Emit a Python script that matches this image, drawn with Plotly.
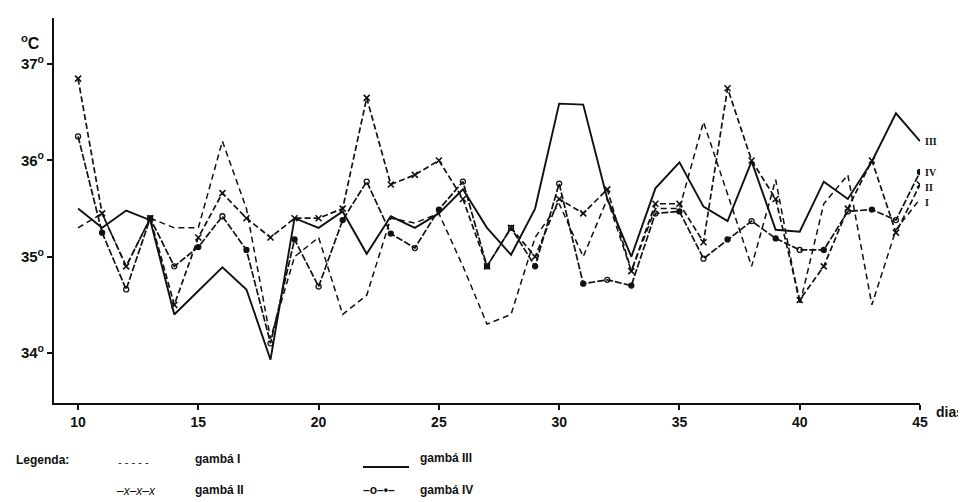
import plotly.graph_objects as go

days = list(range(10, 46))

gamba_I = [35.3, 35.45, 34.9, 35.4, 35.3, 35.3, 36.2, 35.5, 34.15, 35.0,
           35.2, 34.4, 34.6, 35.4, 35.35, 35.45, 34.9, 34.3, 34.4, 35.2,
           35.55, 35.0, 35.6, 34.85, 35.5, 35.5, 36.4, 35.65, 34.9, 35.8,
           34.5, 35.55, 35.85, 34.5, 35.28, 35.6]

gamba_II = [36.85, 35.45, 34.9, 35.4, 34.5, 35.2, 35.66, 35.4, 35.2, 35.4,
            35.4, 35.5, 36.65, 35.75, 35.85, 36.0, 35.6, 34.9, 35.3, 35.0,
            35.6, 35.45, 35.7, 34.85, 35.55, 35.55, 35.15, 36.75, 36.0, 35.6,
            34.55, 34.9, 35.5, 36.0, 35.25, 35.75]

gamba_III = [35.5, 35.3, 35.48, 35.38, 34.4, 34.65, 34.89, 34.66, 33.93, 35.4,
             35.3, 35.47, 35.03, 35.42, 35.3, 35.45, 35.7, 35.3, 35.02, 35.5,
             36.59, 36.58, 35.6, 35.0, 35.71, 35.98, 35.52, 35.37, 35.99, 35.28,
             35.26, 35.78, 35.6, 35.99, 36.49, 36.2]

gamba_IV = [36.25, 35.25, 34.66, 35.4, 34.9, 35.1, 35.42, 35.07, 34.1, 35.18,
            34.69, 35.38, 35.78, 35.24, 35.09, 35.49, 35.78, 34.9, 35.3, 34.9,
            35.76, 34.72, 34.76, 34.7, 35.45, 35.47, 34.98, 35.18, 35.37, 35.19,
            35.07, 35.07, 35.47, 35.49, 35.38, 35.88]

x_ticks = [10, 15, 20, 25, 30, 35, 40, 45]
y_ticks = [34, 35, 36, 37]
y_ticktext = ["34<sup>o</sup>", "35<sup>o</sup>", "36<sup>o</sup>", "37<sup>o</sup>"]

end_labels = ["I", "II", "III", "IV"]
end_label_y = [35.56, 35.72, 36.2, 35.88]

FONT = "Liberation Sans"
BLACK = "#111111"

L, R, T, B = 46, 54, 10, 107
W, H = 966, 502

fig = go.Figure()

fig.add_trace(go.Scatter(x=days, y=gamba_I, mode="lines", name="gambá I",
                         line=dict(color=BLACK, width=1.5, dash="6px,4px")))
fig.add_trace(go.Scatter(x=days, y=gamba_II, mode="lines+markers", name="gambá II",
                         line=dict(color=BLACK, width=1.7, dash="6px,3px"),
                         marker=dict(symbol="x-thin-open", size=6,
                                     line=dict(color=BLACK, width=1.6))))
fig.add_trace(go.Scatter(x=days, y=gamba_III, mode="lines", name="gambá III",
                         line=dict(color=BLACK, width=1.9)))
iv_symbols = ["circle-open" if i % 2 == 0 else "circle" for i in range(len(days))]
fig.add_trace(go.Scatter(x=days, y=gamba_IV, mode="lines+markers", name="gambá IV",
                         line=dict(color=BLACK, width=1.7, dash="7px,2px"),
                         marker=dict(symbol=iv_symbols, size=5, color=BLACK,
                                     line=dict(color=BLACK, width=1.3))))

for lab, yv in zip(end_labels, end_label_y):
    fig.add_annotation(x=45, y=yv, xref="x", yref="y", text="<b>" + lab + "</b>",
                       showarrow=False, xanchor="left", xshift=3,
                       font=dict(family="Liberation Serif", size=10, color=BLACK))

fig.update_layout(
    width=W, height=H,
    margin=dict(l=L, r=R, t=T, b=B),
    paper_bgcolor="white", plot_bgcolor="white",
    showlegend=False,
    font=dict(family=FONT, color=BLACK),
)
fig.update_xaxes(range=[9, 45], tickvals=x_ticks, ticks="outside", ticklen=5,
                 tickwidth=1.5, tickcolor=BLACK, showline=True, linecolor=BLACK,
                 linewidth=2, showgrid=False, zeroline=False,
                 tickfont=dict(family=FONT, size=14, weight="bold", color=BLACK))
fig.update_yaxes(range=[33.48, 37.48], tickvals=y_ticks, ticktext=y_ticktext,
                 ticks="outside", ticklen=5, tickwidth=1.5, tickcolor=BLACK,
                 showline=True, linecolor=BLACK, linewidth=2, showgrid=False,
                 zeroline=False,
                 tickfont=dict(family=FONT, size=15, weight="bold", color=BLACK))


def paper_x(px):
    return (px - L) / (W - L - R)


def paper_y(py):
    return (H - B - py) / (H - T - B)


bold = dict(family=FONT, size=12, color=BLACK, weight="bold")

# axis titles
fig.add_annotation(x=paper_x(11), y=paper_y(22), xref="paper", yref="paper",
                   text="<sup>o</sup>C", showarrow=False, xanchor="left",
                   font=dict(family=FONT, size=16, color=BLACK, weight="bold"))
fig.add_annotation(x=paper_x(926), y=paper_y(414), xref="paper", yref="paper",
                   text="dias", showarrow=False, xanchor="left",
                   font=dict(family=FONT, size=14, color=BLACK, weight="bold"))

# legend block (bottom)
fig.add_annotation(x=paper_x(6), y=paper_y(461), xref="paper", yref="paper",
                   text="Legenda:", showarrow=False, xanchor="left", font=bold)
fig.add_annotation(x=paper_x(108), y=paper_y(462), xref="paper", yref="paper",
                   text="- - - - -", showarrow=False, xanchor="left",
                   font=dict(family=FONT, size=11, color=BLACK))
fig.add_annotation(x=paper_x(185), y=paper_y(460), xref="paper", yref="paper",
                   text="gambá I", showarrow=False, xanchor="left", font=bold)
fig.add_annotation(x=paper_x(106), y=paper_y(492), xref="paper", yref="paper",
                   text="<i>–x–x–x</i>", showarrow=False, xanchor="left",
                   font=dict(family=FONT, size=12, color=BLACK))
fig.add_annotation(x=paper_x(185), y=paper_y(491), xref="paper", yref="paper",
                   text="gambá II", showarrow=False, xanchor="left", font=bold)
fig.add_shape(type="line", xref="paper", yref="paper",
              x0=paper_x(355), x1=paper_x(401), y0=paper_y(459), y1=paper_y(459),
              line=dict(color=BLACK, width=2))
fig.add_annotation(x=paper_x(410), y=paper_y(459), xref="paper", yref="paper",
                   text="gambá III", showarrow=False, xanchor="left", font=bold)
fig.add_annotation(x=paper_x(353), y=paper_y(491), xref="paper", yref="paper",
                   text="–o–•–", showarrow=False, xanchor="left",
                   font=dict(family=FONT, size=12, color=BLACK, weight="bold"))
fig.add_annotation(x=paper_x(410), y=paper_y(491), xref="paper", yref="paper",
                   text="gambá IV", showarrow=False, xanchor="left", font=bold)

fig.write_html("out.html")
